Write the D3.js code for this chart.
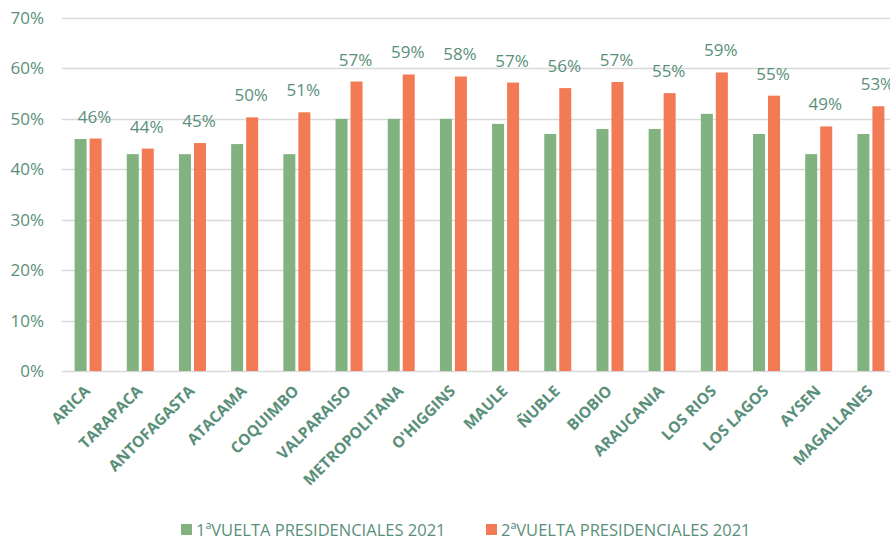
<!DOCTYPE html>
<html>
<head>
<meta charset="utf-8">
<script src="https://cdnjs.cloudflare.com/ajax/libs/d3/7.8.5/d3.min.js"></script>
<style>
  body { margin: 0; background: #fff; }
  text { font-family: "Open Sans", "Noto Sans", sans-serif; }
</style>
</head>
<body>
<script>
var regions = ["ARICA", "TARAPACA", "ANTOFAGASTA", "ATACAMA", "COQUIMBO", "VALPARAISO",
    "METROPOLITANA", "O'HIGGINS", "MAULE", "ÑUBLE", "BIOBIO", "ARAUCANIA",
    "LOS RIOS", "LOS LAGOS", "AYSEN", "MAGALLANES"];
var vuelta1 = [0.46, 0.43, 0.43, 0.45, 0.43, 0.50, 0.50, 0.50, 0.49, 0.47, 0.48, 0.48, 0.51, 0.47, 0.43, 0.47];
var vuelta2 = [0.461, 0.441, 0.452, 0.503, 0.513, 0.574, 0.588, 0.584, 0.572, 0.561, 0.573, 0.551, 0.592, 0.546, 0.485, 0.525];
var seriesNames = ["1ªVUELTA PRESIDENCIALES 2021", "2ªVUELTA PRESIDENCIALES 2021"];
var yTicks = [0, 0.1, 0.2, 0.3, 0.4, 0.5, 0.6, 0.7];

var colors = ["#82b27f", "#f27b55"];
var textColor = "#5a8f7a";

var width = 890, height = 540;
var margin = { left: 62, right: -7, top: 18, bottom: 169 };

var svg = d3.select("body").append("svg")
    .attr("width", width)
    .attr("height", height);

var x = d3.scaleBand()
    .domain(regions)
    .range([margin.left, width - margin.right])
    .paddingInner(0)
    .paddingOuter(0);

var y = d3.scaleLinear()
    .domain([0, 0.7])
    .range([height - margin.bottom, margin.top]);

var pct = d3.format(".0%");

// gridlines
svg.append("g")
    .selectAll("line")
    .data(yTicks)
    .join("line")
    .attr("x1", margin.left)
    .attr("x2", width)
    .attr("y1", function (d) { return Math.round(y(d)) + 0.5; })
    .attr("y2", function (d) { return Math.round(y(d)) + 0.5; })
    .attr("stroke", "#d9d9d9")
    .attr("stroke-width", 1.5);

// y axis labels
var yAxis = svg.append("g")
    .attr("transform", "translate(" + margin.left + ",0)")
    .call(d3.axisLeft(y).tickValues(yTicks).tickFormat(pct).tickSize(0).tickPadding(18));
yAxis.select(".domain").remove();
yAxis.selectAll("text")
    .attr("fill", textColor)
    .style("font-size", "17px");

var barW = 12, gap = 3;
var bw = x.bandwidth();

var groups = svg.append("g")
    .selectAll("g")
    .data(regions)
    .join("g")
    .attr("transform", function (d) { return "translate(" + x(d) + ",0)"; });

groups.append("rect")
    .attr("x", function () { return bw / 2 - barW - gap / 2; })
    .attr("y", function (d, i) { return y(vuelta1[i]); })
    .attr("width", barW)
    .attr("height", function (d, i) { return y(0) - y(vuelta1[i]); })
    .attr("fill", colors[0]);

groups.append("rect")
    .attr("x", function () { return bw / 2 + gap / 2; })
    .attr("y", function (d, i) { return y(vuelta2[i]); })
    .attr("width", barW)
    .attr("height", function (d, i) { return y(0) - y(vuelta2[i]); })
    .attr("fill", colors[1]);

// value labels over second round
groups.append("text")
    .attr("x", bw / 2 + gap / 2 + barW / 2 - 1)
    .attr("y", function (d, i) { return y(vuelta2[i]) - 16; })
    .attr("text-anchor", "middle")
    .attr("fill", textColor)
    .style("font-size", "17px")
    .text(function (d, i) { return pct(vuelta2[i]); });

// category labels
groups.append("text")
    .attr("transform", "translate(" + (bw / 2 + 3) + "," + (y(0) + 21) + ") rotate(-45)")
    .attr("text-anchor", "end")
    .attr("fill", textColor)
    .style("font-size", "15.5px")
    .style("font-weight", "bold")
    .text(function (d) { return d; });

// legend
var legendX = [181, 486];
var legend = svg.append("g")
    .selectAll("g")
    .data(seriesNames)
    .join("g")
    .attr("transform", function (d, i) { return "translate(" + legendX[i] + ",522)"; });

legend.append("rect")
    .attr("y", 2)
    .attr("width", 11)
    .attr("height", 11)
    .attr("fill", function (d, i) { return colors[i]; });

legend.append("text")
    .attr("x", 15)
    .attr("y", 14)
    .attr("fill", textColor)
    .style("font-size", "16.5px")
    .text(function (d) { return d; });
</script>
</body>
</html>
